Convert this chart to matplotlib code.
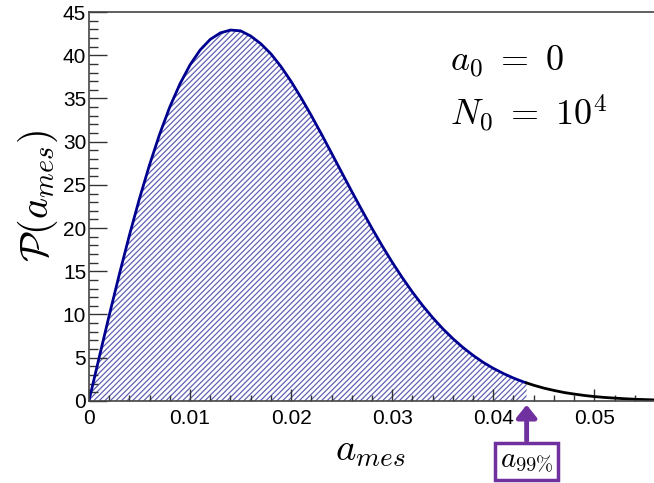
import matplotlib
matplotlib.use("Agg")
import matplotlib.pyplot as plt
import numpy as np
from matplotlib.ticker import MultipleLocator

plt.rcParams['mathtext.fontset'] = 'cm'
plt.rcParams['font.family'] = ['Liberation Sans', 'DejaVu Sans']

# curve values
a_mes = [0.000, 0.001, 0.002, 0.003, 0.004, 0.005, 0.006, 0.007, 0.008, 0.009,
         0.010, 0.011, 0.012, 0.013, 0.014, 0.015, 0.016, 0.017, 0.018, 0.019,
         0.020, 0.021, 0.022, 0.023, 0.024, 0.025, 0.026, 0.027, 0.028, 0.029,
         0.030, 0.031, 0.032, 0.033, 0.034, 0.035, 0.036, 0.037, 0.038, 0.039,
         0.040, 0.041, 0.042, 0.043, 0.044, 0.045, 0.046, 0.047, 0.048, 0.049,
         0.050, 0.051, 0.052, 0.053, 0.054, 0.055, 0.056]
prob = [0.0, 4.97, 9.87, 14.62, 19.16, 23.42, 27.34, 30.89, 34.02, 36.68,
        38.89, 40.61, 41.84, 42.59, 42.92, 42.83, 42.23, 41.34, 40.17, 38.69,
        36.97, 35.06, 33.02, 30.88, 28.67, 26.45, 24.24, 22.08, 19.97, 17.96,
        16.05, 14.26, 12.59, 11.05, 9.64, 8.36, 7.21, 6.18, 5.27, 4.46,
        3.77, 3.17, 2.64, 2.19, 1.81, 1.48, 1.21, 0.97, 0.79, 0.63,
        0.50, 0.40, 0.32, 0.25, 0.19, 0.15, 0.11]
a99 = 0.0433
x_ticks = [0, 0.01, 0.02, 0.03, 0.04, 0.05]
x_ticklabels = ["0", "0.01", "0.02", "0.03", "0.04", "0.05"]
y_ticks = [0, 5, 10, 15, 20, 25, 30, 35, 40, 45]

x = np.array(a_mes)
y = np.array(prob)

fig = plt.figure(figsize=(6.54, 4.83), dpi=100)
ax = fig.add_axes([0.136, 0.170, 0.864, 0.805])

navy = '#000090'
hatch_col = '#6262b4'

# split curve at a99
yi = np.interp(a99, x, y)
mask = x < a99
xs_in = np.concatenate([x[mask], [a99]])
ys_in = np.concatenate([y[mask], [yi]])
xs_out = np.concatenate([[a99], x[~mask]])
ys_out = np.concatenate([[yi], y[~mask]])

plt.rcParams['hatch.linewidth'] = 0.9
plt.rcParams['hatch.color'] = hatch_col
ax.fill_between(xs_in, 0, ys_in, facecolor='none', edgecolor=hatch_col,
                hatch='//////', linewidth=0)
ax.plot(xs_in, ys_in, color=navy, lw=2.0, solid_capstyle='butt')
ax.plot(xs_out, ys_out, color='black', lw=2.0)

ax.set_xlim(0, 0.0559)
ax.set_ylim(0, 45)
ax.set_xticks(x_ticks)
ax.set_xticklabels(x_ticklabels)
ax.set_yticks(y_ticks)
ax.xaxis.set_minor_locator(MultipleLocator(0.002))
ax.yaxis.set_minor_locator(MultipleLocator(1))
ax.tick_params(which='both', direction='in', colors='#333333', labelcolor='black',
               labelsize=15, width=1.0)
ax.tick_params(axis='y', which='major', length=13)
ax.tick_params(axis='y', which='minor', length=6.5)
ax.tick_params(axis='x', which='major', length=9)
ax.tick_params(axis='x', which='minor', length=4.5)
ax.tick_params(axis='x', pad=6)
ax.tick_params(axis='y', pad=2)
ax.spines['right'].set_visible(False)
for s in ['left', 'bottom', 'top']:
    ax.spines[s].set_color('#444444')
    ax.spines[s].set_linewidth(1.2)

fig.text(0.058, 0.594, r'$\mathcal{P}(a_{mes})$', rotation=90, fontsize=29,
         ha='center', va='center')
fig.text(0.566, 0.066, r'$a_{mes}$', fontsize=28, ha='center', va='center')

ax.text(0.639, 0.873, r'$a_0\ =\ 0$', transform=ax.transAxes, fontsize=26,
        ha='left', va='center')
ax.text(0.639, 0.738, r'$N_0\ =\ 10^4$', transform=ax.transAxes, fontsize=26,
        ha='left', va='center')

purple = '#7030A0'
ax.annotate('', xy=(a99, -0.45), xycoords='data',
            xytext=(a99, -4.6), textcoords='data',
            arrowprops=dict(arrowstyle='-|>,head_length=0.75,head_width=0.6',
                            color=purple, lw=3.5, shrinkA=0, shrinkB=0),
            annotation_clip=False)
ax.text(a99, -7.0, r'$a_{99\%}$', fontsize=21, ha='center', va='center',
        bbox=dict(boxstyle='square,pad=0.15', facecolor='white',
                  edgecolor=purple, linewidth=2.5),
        clip_on=False)

fig.savefig('out.png', dpi=100)
